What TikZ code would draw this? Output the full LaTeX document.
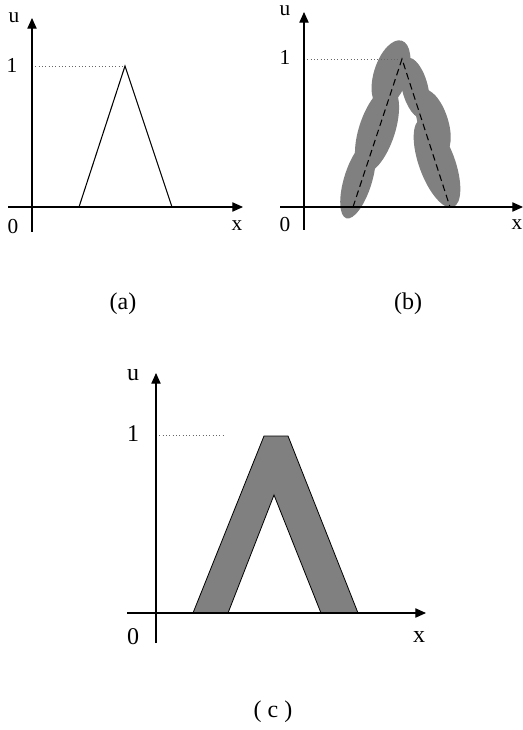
\documentclass[tikz,border=0pt]{standalone}
\usepackage{fontspec}
\setmainfont{Liberation Serif}
\usetikzlibrary{arrows.meta}
\definecolor{shade}{RGB}{128,128,128}
\tikzset{
  axis/.style={line width=0.8pt,-{Triangle[length=8pt,width=7pt]}},
  guide/.style={dotted,line width=0.5pt,color=black!60},
  curve/.style={line width=0.8pt},
  lbl/.style={inner sep=0pt,font=\fontsize{16}{19}\selectfont},
  lblc/.style={inner sep=0pt,font=\fontsize{18}{21}\selectfont},
  captext/.style={inner sep=0pt,font=\fontsize{18}{21}\selectfont},
  blob/.style={fill=shade},
}
\begin{document}
\begin{tikzpicture}[x=0.75pt,y=-0.75pt]
\useasboundingbox (0,0) rectangle (523,730);
% ---------------- (a)
\coordinate (ayb) at (32,232);
\coordinate (ayt) at (32,18);
\coordinate (axl) at (8,207);
\coordinate (axr) at (243,207);
\coordinate (aL) at (79,207);
\coordinate (aP) at (125,66);
\coordinate (aR) at (172,207);
\coordinate (a1) at (32,66);
\draw[guide] (a1) -- (aP);
\draw[axis] (ayb) -- (ayt);
\draw[axis] (axl) -- (axr);
\draw[curve] (aL) -- (aP) -- (aR);
\node[lbl] (au) at (14,18) {u};
\node[lbl] (aone) at (12,65) {1};
\node[lbl] (azero) at (13,227) {0};
\node[lbl] (ax) at (237,226) {x};
\node[captext] (capa) at (123,304) {(a)};
% ---------------- (b)
\coordinate (byb) at (304,230);
\coordinate (byt) at (304,12);
\coordinate (bxl) at (280,207);
\coordinate (bxr) at (523,207);
\coordinate (bL) at (353,207);
\coordinate (bP) at (402,59);
\coordinate (bR) at (450,207);
\coordinate (b1) at (304,59);
\fill[blob,rotate around={73:(358,180)}] (358,180) ellipse [x radius=40,y radius=14];
\fill[blob,rotate around={72:(377,130)}] (377,130) ellipse [x radius=45,y radius=18];
\fill[blob,rotate around={72:(391,74)}] (391,74) ellipse [x radius=35,y radius=17];
\fill[blob,rotate around={104:(415,88)}] (415,88) ellipse [x radius=31,y radius=13];
\fill[blob,rotate around={108:(433,122)}] (433,122) ellipse [x radius=34,y radius=15];
\fill[blob,rotate around={110:(437,163)}] (437,163) ellipse [x radius=47,y radius=18];
\draw[guide] (b1) -- (bP);
\draw[axis] (byb) -- (byt);
\draw[axis] (bxl) -- (bxr);
\draw[curve,dash pattern=on 5pt off 3pt] (bL) -- (bP) -- (bR);
\node[lbl] (bu) at (285,11) {u};
\node[lbl] (bone) at (285,57) {1};
\node[lbl] (bzero) at (285,225) {0};
\node[lbl] (bx) at (517,225) {x};
\node[captext] (capb) at (408,304) {(b)};
% ---------------- (c)
\coordinate (cyb) at (156,643);
\coordinate (cyt) at (156,373);
\coordinate (cxl) at (127,613);
\coordinate (cxr) at (426,613);
\coordinate (c1) at (156,435);
\coordinate (cg) at (224,435);
\coordinate (oBL) at (193,613);
\coordinate (oTL) at (264,436);
\coordinate (oTR) at (288,436);
\coordinate (oBR) at (358,613);
\coordinate (iBL) at (228,613);
\coordinate (iP) at (274,495);
\coordinate (iBR) at (321,613);
\draw[guide] (c1) -- (cg);
\filldraw[fill=shade,draw=black,line width=0.6pt] (oBL) -- (oTL) -- (oTR) -- (oBR) -- (iBR) -- (iP) -- (iBL) -- cycle;
\draw[axis] (cyb) -- (cyt);
\draw[axis] (cxl) -- (cxr);
\draw[line width=1.6pt] (iBL) -- (iBR);
\node[lblc] (cu) at (133,375) {u};
\node[lblc] (cone) at (133,434) {1};
\node[lblc] (czero) at (133,637) {0};
\node[lblc] (cx) at (419,637) {x};
\node[captext] (capc) at (273,712) {( c )};
\end{tikzpicture}
\end{document}
